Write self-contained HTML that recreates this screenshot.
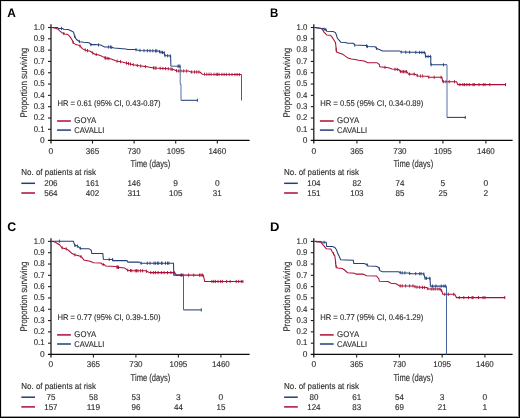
<!DOCTYPE html>
<html><head><meta charset="utf-8"><style>
html,body{margin:0;padding:0;background:#fff;}
body{width:520px;height:418px;overflow:hidden;}
svg{display:block;will-change:transform;}
.t{font-family:"Liberation Sans", sans-serif;fill:#2e2e2e;stroke:#2e2e2e;stroke-width:0.14px;}
text{font-family:"Liberation Sans", sans-serif;text-rendering:geometricPrecision;}
</style></head><body>
<svg width="520" height="418" viewBox="0 0 520 418">
<rect x="0" y="0" width="520" height="418" fill="#fff"/>
<text x="7.3" y="16.9" font-size="12.4" font-weight="bold" fill="#000" transform="translate(7.3,0) scale(0.96,1) translate(-7.3,0)">A</text>
<line x1="51" y1="24.3" x2="51" y2="143.6" stroke="#1e1e1e" stroke-width="1.3"/>
<line x1="47.9" y1="140.4" x2="249.6" y2="140.4" stroke="#0a0a0a" stroke-width="1.25"/>
<text x="44.6" y="142.9" text-anchor="end" class="t" font-size="8.4">0</text>
<line x1="48" y1="129.29" x2="51" y2="129.29" stroke="#1e1e1e" stroke-width="1.1"/>
<text x="44.6" y="131.59" text-anchor="end" class="t" font-size="8.4" textLength="10.8" lengthAdjust="spacingAndGlyphs">0.1</text>
<line x1="48" y1="117.98" x2="51" y2="117.98" stroke="#1e1e1e" stroke-width="1.1"/>
<text x="44.6" y="120.28" text-anchor="end" class="t" font-size="8.4" textLength="10.8" lengthAdjust="spacingAndGlyphs">0.2</text>
<line x1="48" y1="106.67" x2="51" y2="106.67" stroke="#1e1e1e" stroke-width="1.1"/>
<text x="44.6" y="108.97" text-anchor="end" class="t" font-size="8.4" textLength="10.8" lengthAdjust="spacingAndGlyphs">0.3</text>
<line x1="48" y1="95.36" x2="51" y2="95.36" stroke="#1e1e1e" stroke-width="1.1"/>
<text x="44.6" y="97.66" text-anchor="end" class="t" font-size="8.4" textLength="10.8" lengthAdjust="spacingAndGlyphs">0.4</text>
<line x1="48" y1="84.05" x2="51" y2="84.05" stroke="#1e1e1e" stroke-width="1.1"/>
<text x="44.6" y="86.35" text-anchor="end" class="t" font-size="8.4" textLength="10.8" lengthAdjust="spacingAndGlyphs">0.5</text>
<line x1="48" y1="72.74" x2="51" y2="72.74" stroke="#1e1e1e" stroke-width="1.1"/>
<text x="44.6" y="75.04" text-anchor="end" class="t" font-size="8.4" textLength="10.8" lengthAdjust="spacingAndGlyphs">0.6</text>
<line x1="48" y1="61.43" x2="51" y2="61.43" stroke="#1e1e1e" stroke-width="1.1"/>
<text x="44.6" y="63.73" text-anchor="end" class="t" font-size="8.4" textLength="10.8" lengthAdjust="spacingAndGlyphs">0.7</text>
<line x1="48" y1="50.12" x2="51" y2="50.12" stroke="#1e1e1e" stroke-width="1.1"/>
<text x="44.6" y="52.42" text-anchor="end" class="t" font-size="8.4" textLength="10.8" lengthAdjust="spacingAndGlyphs">0.8</text>
<line x1="48" y1="38.81" x2="51" y2="38.81" stroke="#1e1e1e" stroke-width="1.1"/>
<text x="44.6" y="41.11" text-anchor="end" class="t" font-size="8.4" textLength="10.8" lengthAdjust="spacingAndGlyphs">0.9</text>
<line x1="48" y1="27.5" x2="51" y2="27.5" stroke="#1e1e1e" stroke-width="1.1"/>
<text x="44.6" y="29.8" text-anchor="end" class="t" font-size="8.4" textLength="10.8" lengthAdjust="spacingAndGlyphs">1.0</text>
<text x="50.9" y="153.5" text-anchor="middle" class="t" font-size="8.4">0</text>
<line x1="92.5" y1="140.4" x2="92.5" y2="143.6" stroke="#1e1e1e" stroke-width="1.1"/>
<text x="92.5" y="153.5" text-anchor="middle" class="t" font-size="8.4" textLength="13.35" lengthAdjust="spacingAndGlyphs">365</text>
<line x1="134.1" y1="140.4" x2="134.1" y2="143.6" stroke="#1e1e1e" stroke-width="1.1"/>
<text x="134.1" y="153.5" text-anchor="middle" class="t" font-size="8.4" textLength="13.35" lengthAdjust="spacingAndGlyphs">730</text>
<line x1="175.7" y1="140.4" x2="175.7" y2="143.6" stroke="#1e1e1e" stroke-width="1.1"/>
<text x="175.7" y="153.5" text-anchor="middle" class="t" font-size="8.4" textLength="17.8" lengthAdjust="spacingAndGlyphs">1095</text>
<line x1="217.3" y1="140.4" x2="217.3" y2="143.6" stroke="#1e1e1e" stroke-width="1.1"/>
<text x="217.3" y="153.5" text-anchor="middle" class="t" font-size="8.4" textLength="17.8" lengthAdjust="spacingAndGlyphs">1460</text>
<text x="0" y="0" transform="translate(27.4,82.7) rotate(-90)" text-anchor="middle" class="t" textLength="69.8" lengthAdjust="spacingAndGlyphs" font-size="9.7">Proportion surviving</text>
<text x="130.6" y="167" class="t" textLength="39.8" lengthAdjust="spacingAndGlyphs" font-size="9.9">Time (days)</text>
<text x="57.4" y="105.7" class="t" textLength="103.2" lengthAdjust="spacingAndGlyphs" font-size="8.3">HR = 0.61 (95% CI, 0.43-0.87)</text>
<line x1="57.1" y1="121" x2="70.9" y2="121" stroke="#ab0e36" stroke-width="1.5"/>
<line x1="57.1" y1="130.1" x2="70.9" y2="130.1" stroke="#223f7a" stroke-width="1.5"/>
<text x="74.3" y="123" class="t" textLength="22" lengthAdjust="spacingAndGlyphs" font-size="8.4">GOYA</text>
<text x="74.3" y="132.6" class="t" textLength="30" lengthAdjust="spacingAndGlyphs" font-size="8.4">CAVALLI</text>
<text x="21.3" y="175.2" class="t" textLength="74.8" lengthAdjust="spacingAndGlyphs" font-size="8.6">No. of patients at risk</text>
<line x1="21.3" y1="183.3" x2="35" y2="183.3" stroke="#223f7a" stroke-width="1.5"/>
<line x1="21.3" y1="193" x2="35" y2="193" stroke="#ab0e36" stroke-width="1.5"/>
<text x="50.9" y="186.2" text-anchor="middle" class="t" font-size="8.4" textLength="13.35" lengthAdjust="spacingAndGlyphs">206</text>
<text x="92.5" y="186.2" text-anchor="middle" class="t" font-size="8.4" textLength="13.35" lengthAdjust="spacingAndGlyphs">161</text>
<text x="134.1" y="186.2" text-anchor="middle" class="t" font-size="8.4" textLength="13.35" lengthAdjust="spacingAndGlyphs">146</text>
<text x="175.7" y="186.2" text-anchor="middle" class="t" font-size="8.4">9</text>
<text x="217.3" y="186.2" text-anchor="middle" class="t" font-size="8.4">0</text>
<text x="50.9" y="195.8" text-anchor="middle" class="t" font-size="8.4" textLength="13.35" lengthAdjust="spacingAndGlyphs">564</text>
<text x="92.5" y="195.8" text-anchor="middle" class="t" font-size="8.4" textLength="13.35" lengthAdjust="spacingAndGlyphs">402</text>
<text x="134.1" y="195.8" text-anchor="middle" class="t" font-size="8.4" textLength="13.35" lengthAdjust="spacingAndGlyphs">311</text>
<text x="175.7" y="195.8" text-anchor="middle" class="t" font-size="8.4" textLength="13.35" lengthAdjust="spacingAndGlyphs">105</text>
<text x="217.3" y="195.8" text-anchor="middle" class="t" font-size="8.4" textLength="8.9" lengthAdjust="spacingAndGlyphs">31</text>
<polyline points="51.5,27.5 55.7,28.3 58.1,29.2 60,31.1 62.4,33.1 64.8,34 67.7,34.5 70.1,36.9 72,39.8 73.5,43.2 75.9,44.6 79.7,45.6 82.6,48.9 86.5,50.4 90.3,51.3 93.2,53.3 95,54.2 99.8,55.2 105.6,58.1 111.3,59 116.2,61 121.9,61.9 127.7,63.4 133.5,64.8 139.2,65.8 146.9,66.8 153.8,67.9 159.6,68.3 168.8,68.8 173.5,69.4 176.9,70.9 188.5,71.1 190.8,72 200,72 202.3,74.2 241.5,74.6" fill="none" stroke="#ab0e36" stroke-width="1.05" stroke-linejoin="miter"/>
<line x1="241.5" y1="74.6" x2="241.5" y2="100.5" stroke="#bb2e58" stroke-width="1"/>
<path d="M63.8,32.02v3.2 M73.1,40.69v3.2 M80,44.34v3.2 M85.2,48.3v3.2 M87.5,49.04v3.2 M92.7,51.36v3.2 M96.2,52.85v3.2 M105,56.2v3.2 M105.4,56.4v3.2 M107.1,56.74v3.2 M108.8,57.01v3.2 M117.1,59.54v3.2 M120.5,60.08v3.2 M126.5,61.49v3.2 M128.5,61.99v3.2 M130.5,62.48v3.2 M133.3,63.15v3.2 M137.3,63.87v3.2 M140.7,64.39v3.2 M145.4,65.01v3.2 M153.5,66.25v3.2 M155,66.38v3.2 M156,66.45v3.2 M160.2,66.73v3.2 M162.9,66.88v3.2 M165.6,67.03v3.2 M168.3,67.17v3.2 M171,67.48v3.2 M172.2,67.63v3.2 M176.5,69.12v3.2 M178.7,69.33v3.2 M180.8,69.37v3.2 M183.7,69.42v3.2 M186.6,69.47v3.2 M191.6,70.4v3.2 M194.5,70.4v3.2 M196.7,70.4v3.2 M198.9,70.4v3.2 M204.6,72.62v3.2 M206.8,72.65v3.2 M209,72.67v3.2 M211.1,72.69v3.2 M214,72.72v3.2 M216.2,72.74v3.2 M217.6,72.76v3.2 M219.1,72.77v3.2 M221.9,72.8v3.2 M224.1,72.82v3.2 M226.3,72.84v3.2 M229.2,72.87v3.2 M232,72.9v3.2 M234.9,72.93v3.2 M237.1,72.96v3.2 M239.3,72.98v3.2" stroke="#ab0e36" stroke-width="0.9" fill="none"/>
<polyline points="51.5,27.5 57.6,27.5 58.6,28.5 63,28.5 63.4,29.2 68.2,29.5 71,30.7 73.5,32.1 74.4,35.5 75.4,37.9 76.8,39.8 79.7,41.7 83.6,42.2 89.3,42.7 90.8,44.6 95,44.6 100.8,45.1 104.6,47 110.4,47 114.2,48 125.8,48.9 127.7,49.4 135.4,49.6 139.2,50.4 158.5,51 160.2,52.1 164.2,52.7 164.8,55.6 170.6,55.9 170.9,66 180.2,66.2" fill="none" stroke="#223f7a" stroke-width="1.05" stroke-linejoin="miter"/>
<polyline points="180.2,83.8 181,84.6" fill="none" stroke="#223f7a" stroke-width="1.05" stroke-linejoin="miter"/>
<polyline points="181,100.3 197.7,100.3" fill="none" stroke="#223f7a" stroke-width="1.05" stroke-linejoin="miter"/>
<line x1="180.2" y1="66.2" x2="180.2" y2="83.8" stroke="#5470a5" stroke-width="1"/>
<line x1="181" y1="84.6" x2="181" y2="100.3" stroke="#5470a5" stroke-width="1"/>
<path d="M61.5,26.9v3.2 M74.8,34.86v3.2 M79.4,39.9v3.2 M91,43v3.2 M98.5,43.3v3.2 M108.4,45.4v3.2 M110.4,45.4v3.2 M111.7,45.74v3.2 M136,48.13v3.2 M140,48.82v3.2 M144,48.95v3.2 M147.4,49.05v3.2 M150,49.14v3.2 M152.8,49.22v3.2 M155.5,49.31v3.2 M156.8,49.35v3.2 M159.5,50.05v3.2 M161,50.62v3.2 M162.5,50.85v3.2 M164.2,51.1v3.2 M165,54.01v3.2 M167.6,54.14v3.2 M170.3,54.28v3.2 M178,64.55v3.2 M179,64.57v3.2 M180,64.6v3.2 M197.4,98.7v3.2" stroke="#223f7a" stroke-width="0.9" fill="none"/>
<text x="270.1" y="16.9" font-size="12.4" font-weight="bold" fill="#000" transform="translate(270.1,0) scale(0.93,1) translate(-270.1,0)">B</text>
<line x1="313.8" y1="24.3" x2="313.8" y2="143.6" stroke="#1e1e1e" stroke-width="1.3"/>
<line x1="310.7" y1="140.4" x2="512.6" y2="140.4" stroke="#0a0a0a" stroke-width="1.25"/>
<text x="307.4" y="142.9" text-anchor="end" class="t" font-size="8.4">0</text>
<line x1="310.8" y1="129.29" x2="313.8" y2="129.29" stroke="#1e1e1e" stroke-width="1.1"/>
<text x="307.4" y="131.59" text-anchor="end" class="t" font-size="8.4" textLength="10.8" lengthAdjust="spacingAndGlyphs">0.1</text>
<line x1="310.8" y1="117.98" x2="313.8" y2="117.98" stroke="#1e1e1e" stroke-width="1.1"/>
<text x="307.4" y="120.28" text-anchor="end" class="t" font-size="8.4" textLength="10.8" lengthAdjust="spacingAndGlyphs">0.2</text>
<line x1="310.8" y1="106.67" x2="313.8" y2="106.67" stroke="#1e1e1e" stroke-width="1.1"/>
<text x="307.4" y="108.97" text-anchor="end" class="t" font-size="8.4" textLength="10.8" lengthAdjust="spacingAndGlyphs">0.3</text>
<line x1="310.8" y1="95.36" x2="313.8" y2="95.36" stroke="#1e1e1e" stroke-width="1.1"/>
<text x="307.4" y="97.66" text-anchor="end" class="t" font-size="8.4" textLength="10.8" lengthAdjust="spacingAndGlyphs">0.4</text>
<line x1="310.8" y1="84.05" x2="313.8" y2="84.05" stroke="#1e1e1e" stroke-width="1.1"/>
<text x="307.4" y="86.35" text-anchor="end" class="t" font-size="8.4" textLength="10.8" lengthAdjust="spacingAndGlyphs">0.5</text>
<line x1="310.8" y1="72.74" x2="313.8" y2="72.74" stroke="#1e1e1e" stroke-width="1.1"/>
<text x="307.4" y="75.04" text-anchor="end" class="t" font-size="8.4" textLength="10.8" lengthAdjust="spacingAndGlyphs">0.6</text>
<line x1="310.8" y1="61.43" x2="313.8" y2="61.43" stroke="#1e1e1e" stroke-width="1.1"/>
<text x="307.4" y="63.73" text-anchor="end" class="t" font-size="8.4" textLength="10.8" lengthAdjust="spacingAndGlyphs">0.7</text>
<line x1="310.8" y1="50.12" x2="313.8" y2="50.12" stroke="#1e1e1e" stroke-width="1.1"/>
<text x="307.4" y="52.42" text-anchor="end" class="t" font-size="8.4" textLength="10.8" lengthAdjust="spacingAndGlyphs">0.8</text>
<line x1="310.8" y1="38.81" x2="313.8" y2="38.81" stroke="#1e1e1e" stroke-width="1.1"/>
<text x="307.4" y="41.11" text-anchor="end" class="t" font-size="8.4" textLength="10.8" lengthAdjust="spacingAndGlyphs">0.9</text>
<line x1="310.8" y1="27.5" x2="313.8" y2="27.5" stroke="#1e1e1e" stroke-width="1.1"/>
<text x="307.4" y="29.8" text-anchor="end" class="t" font-size="8.4" textLength="10.8" lengthAdjust="spacingAndGlyphs">1.0</text>
<text x="313.9" y="153.5" text-anchor="middle" class="t" font-size="8.4">0</text>
<line x1="356.9" y1="140.4" x2="356.9" y2="143.6" stroke="#1e1e1e" stroke-width="1.1"/>
<text x="356.9" y="153.5" text-anchor="middle" class="t" font-size="8.4" textLength="13.35" lengthAdjust="spacingAndGlyphs">365</text>
<line x1="399.9" y1="140.4" x2="399.9" y2="143.6" stroke="#1e1e1e" stroke-width="1.1"/>
<text x="399.9" y="153.5" text-anchor="middle" class="t" font-size="8.4" textLength="13.35" lengthAdjust="spacingAndGlyphs">730</text>
<line x1="442.9" y1="140.4" x2="442.9" y2="143.6" stroke="#1e1e1e" stroke-width="1.1"/>
<text x="442.9" y="153.5" text-anchor="middle" class="t" font-size="8.4" textLength="17.8" lengthAdjust="spacingAndGlyphs">1095</text>
<line x1="485.9" y1="140.4" x2="485.9" y2="143.6" stroke="#1e1e1e" stroke-width="1.1"/>
<text x="485.9" y="153.5" text-anchor="middle" class="t" font-size="8.4" textLength="17.8" lengthAdjust="spacingAndGlyphs">1460</text>
<text x="0" y="0" transform="translate(290.2,82.7) rotate(-90)" text-anchor="middle" class="t" textLength="69.8" lengthAdjust="spacingAndGlyphs" font-size="9.7">Proportion surviving</text>
<text x="393.4" y="167" class="t" textLength="39.8" lengthAdjust="spacingAndGlyphs" font-size="9.9">Time (days)</text>
<text x="320.2" y="105.7" class="t" textLength="103.2" lengthAdjust="spacingAndGlyphs" font-size="8.3">HR = 0.55 (95% CI, 0.34-0.89)</text>
<line x1="319.9" y1="121" x2="333.7" y2="121" stroke="#ab0e36" stroke-width="1.5"/>
<line x1="319.9" y1="130.1" x2="333.7" y2="130.1" stroke="#223f7a" stroke-width="1.5"/>
<text x="337.1" y="123" class="t" textLength="22" lengthAdjust="spacingAndGlyphs" font-size="8.4">GOYA</text>
<text x="337.1" y="132.6" class="t" textLength="30" lengthAdjust="spacingAndGlyphs" font-size="8.4">CAVALLI</text>
<text x="284.1" y="175.2" class="t" textLength="74.8" lengthAdjust="spacingAndGlyphs" font-size="8.6">No. of patients at risk</text>
<line x1="284.1" y1="183.3" x2="297.8" y2="183.3" stroke="#223f7a" stroke-width="1.5"/>
<line x1="284.1" y1="193" x2="297.8" y2="193" stroke="#ab0e36" stroke-width="1.5"/>
<text x="313.9" y="186.2" text-anchor="middle" class="t" font-size="8.4" textLength="13.35" lengthAdjust="spacingAndGlyphs">104</text>
<text x="356.9" y="186.2" text-anchor="middle" class="t" font-size="8.4" textLength="8.9" lengthAdjust="spacingAndGlyphs">82</text>
<text x="399.9" y="186.2" text-anchor="middle" class="t" font-size="8.4" textLength="8.9" lengthAdjust="spacingAndGlyphs">74</text>
<text x="442.9" y="186.2" text-anchor="middle" class="t" font-size="8.4">5</text>
<text x="485.9" y="186.2" text-anchor="middle" class="t" font-size="8.4">0</text>
<text x="313.9" y="195.8" text-anchor="middle" class="t" font-size="8.4" textLength="13.35" lengthAdjust="spacingAndGlyphs">151</text>
<text x="356.9" y="195.8" text-anchor="middle" class="t" font-size="8.4" textLength="13.35" lengthAdjust="spacingAndGlyphs">103</text>
<text x="399.9" y="195.8" text-anchor="middle" class="t" font-size="8.4" textLength="8.9" lengthAdjust="spacingAndGlyphs">85</text>
<text x="442.9" y="195.8" text-anchor="middle" class="t" font-size="8.4" textLength="8.9" lengthAdjust="spacingAndGlyphs">25</text>
<text x="485.9" y="195.8" text-anchor="middle" class="t" font-size="8.4">2</text>
<polyline points="314.3,27.5 321,28.25 322.5,29.7 324,32.1 326.8,35 330.2,35.2 331.6,36.4 333.1,38.8 335.5,42.7 336,47 336.4,51.8 338.4,52.8 342.7,54.2 344.6,55.7 348,58.1 351.3,59 355.2,59.5 358.5,60.2 364.2,61 367.7,62.7 376.9,62.7 379.2,64.4 379.8,66.7 388.5,67.7 391.9,69 398.8,69.6 400.6,71.7 406.9,71.7 408.7,74.2 414.6,74.1 418.1,75.9 427.3,76.2 429,77.3 441.9,77.3 442.7,81.7 456.5,81.7 458,84.6 505.8,84.6" fill="none" stroke="#ab0e36" stroke-width="1.05" stroke-linejoin="miter"/>
<path d="M336.2,47.8v3.2 M385,65.7v3.2 M395,67.67v3.2 M397.3,67.87v3.2 M400.4,69.87v3.2 M402,70.1v3.2 M403.5,70.1v3.2 M405,70.1v3.2 M406.5,70.1v3.2 M409.6,72.58v3.2 M414.2,72.51v3.2 M417.3,73.89v3.2 M420.4,74.38v3.2 M422.7,74.45v3.2 M428.8,75.57v3.2 M434.2,75.7v3.2 M441.1,75.7v3.2 M443.4,80.1v3.2 M446,80.1v3.2 M449.2,80.1v3.2 M454.5,80.1v3.2 M459.9,83v3.2 M462.9,83v3.2 M464.6,83v3.2 M466.9,83v3.2 M469.3,83v3.2 M473,83v3.2 M474.3,83v3.2 M479,83v3.2 M483.3,83v3.2 M485.1,83v3.2 M489.8,83v3.2 M505.5,83v3.2" stroke="#ab0e36" stroke-width="0.9" fill="none"/>
<polyline points="314.3,27.5 319.6,28.2 323.5,28.5 324.4,29.5 326,29.5 326.8,31.3 333.1,31.6 335.5,32.6 336.4,35 337.4,38.3 338.8,39.8 340.8,42.2 345.6,42.4 347.5,43.2 353.3,43.3 354.7,45.1 366,45.4 367.1,46.5 375.2,46.8 376.3,48.3 379.2,49.4 382.7,50.9 399.4,50.9 401.2,52.1 425,52.5 425.6,56.5 430.8,56.5 430.8,64.8 447,64.8" fill="none" stroke="#223f7a" stroke-width="1.05" stroke-linejoin="miter"/>
<polyline points="447,117.4 465.5,117.4" fill="none" stroke="#223f7a" stroke-width="1.05" stroke-linejoin="miter"/>
<line x1="447" y1="64.8" x2="447" y2="117.4" stroke="#5470a5" stroke-width="1"/>
<path d="M324.1,27.57v3.2 M325.8,27.9v3.2 M354.7,43.5v3.2 M366.5,44.3v3.2 M367.4,44.91v3.2 M376.5,46.78v3.2 M401.2,50.5v3.2 M405.8,50.58v3.2 M409.6,50.64v3.2 M415.8,50.75v3.2 M419.6,50.81v3.2 M421.9,50.85v3.2 M424.2,50.89v3.2 M425.8,54.9v3.2 M428.1,54.9v3.2 M430.4,54.9v3.2 M431.2,63.2v3.2 M443.5,63.2v3.2 M465.3,115.8v3.2" stroke="#223f7a" stroke-width="0.9" fill="none"/>
<text x="7.3" y="230.8" font-size="12.4" font-weight="bold" fill="#000" transform="translate(7.3,0) scale(1.0,1) translate(-7.3,0)">C</text>
<line x1="51" y1="238.2" x2="51" y2="357.5" stroke="#1e1e1e" stroke-width="1.3"/>
<line x1="47.9" y1="354.3" x2="249.6" y2="354.3" stroke="#0a0a0a" stroke-width="1.25"/>
<text x="44.6" y="356.8" text-anchor="end" class="t" font-size="8.4">0</text>
<line x1="48" y1="343.19" x2="51" y2="343.19" stroke="#1e1e1e" stroke-width="1.1"/>
<text x="44.6" y="345.49" text-anchor="end" class="t" font-size="8.4" textLength="10.8" lengthAdjust="spacingAndGlyphs">0.1</text>
<line x1="48" y1="331.88" x2="51" y2="331.88" stroke="#1e1e1e" stroke-width="1.1"/>
<text x="44.6" y="334.18" text-anchor="end" class="t" font-size="8.4" textLength="10.8" lengthAdjust="spacingAndGlyphs">0.2</text>
<line x1="48" y1="320.57" x2="51" y2="320.57" stroke="#1e1e1e" stroke-width="1.1"/>
<text x="44.6" y="322.87" text-anchor="end" class="t" font-size="8.4" textLength="10.8" lengthAdjust="spacingAndGlyphs">0.3</text>
<line x1="48" y1="309.26" x2="51" y2="309.26" stroke="#1e1e1e" stroke-width="1.1"/>
<text x="44.6" y="311.56" text-anchor="end" class="t" font-size="8.4" textLength="10.8" lengthAdjust="spacingAndGlyphs">0.4</text>
<line x1="48" y1="297.95" x2="51" y2="297.95" stroke="#1e1e1e" stroke-width="1.1"/>
<text x="44.6" y="300.25" text-anchor="end" class="t" font-size="8.4" textLength="10.8" lengthAdjust="spacingAndGlyphs">0.5</text>
<line x1="48" y1="286.64" x2="51" y2="286.64" stroke="#1e1e1e" stroke-width="1.1"/>
<text x="44.6" y="288.94" text-anchor="end" class="t" font-size="8.4" textLength="10.8" lengthAdjust="spacingAndGlyphs">0.6</text>
<line x1="48" y1="275.33" x2="51" y2="275.33" stroke="#1e1e1e" stroke-width="1.1"/>
<text x="44.6" y="277.63" text-anchor="end" class="t" font-size="8.4" textLength="10.8" lengthAdjust="spacingAndGlyphs">0.7</text>
<line x1="48" y1="264.02" x2="51" y2="264.02" stroke="#1e1e1e" stroke-width="1.1"/>
<text x="44.6" y="266.32" text-anchor="end" class="t" font-size="8.4" textLength="10.8" lengthAdjust="spacingAndGlyphs">0.8</text>
<line x1="48" y1="252.71" x2="51" y2="252.71" stroke="#1e1e1e" stroke-width="1.1"/>
<text x="44.6" y="255.01" text-anchor="end" class="t" font-size="8.4" textLength="10.8" lengthAdjust="spacingAndGlyphs">0.9</text>
<line x1="48" y1="241.4" x2="51" y2="241.4" stroke="#1e1e1e" stroke-width="1.1"/>
<text x="44.6" y="243.7" text-anchor="end" class="t" font-size="8.4" textLength="10.8" lengthAdjust="spacingAndGlyphs">1.0</text>
<text x="50.9" y="367.4" text-anchor="middle" class="t" font-size="8.4">0</text>
<line x1="93.4" y1="354.3" x2="93.4" y2="357.5" stroke="#1e1e1e" stroke-width="1.1"/>
<text x="93.4" y="367.4" text-anchor="middle" class="t" font-size="8.4" textLength="13.35" lengthAdjust="spacingAndGlyphs">365</text>
<line x1="135.9" y1="354.3" x2="135.9" y2="357.5" stroke="#1e1e1e" stroke-width="1.1"/>
<text x="135.9" y="367.4" text-anchor="middle" class="t" font-size="8.4" textLength="13.35" lengthAdjust="spacingAndGlyphs">730</text>
<line x1="178.4" y1="354.3" x2="178.4" y2="357.5" stroke="#1e1e1e" stroke-width="1.1"/>
<text x="178.4" y="367.4" text-anchor="middle" class="t" font-size="8.4" textLength="17.8" lengthAdjust="spacingAndGlyphs">1095</text>
<line x1="220.9" y1="354.3" x2="220.9" y2="357.5" stroke="#1e1e1e" stroke-width="1.1"/>
<text x="220.9" y="367.4" text-anchor="middle" class="t" font-size="8.4" textLength="17.8" lengthAdjust="spacingAndGlyphs">1460</text>
<text x="0" y="0" transform="translate(27.4,296.6) rotate(-90)" text-anchor="middle" class="t" textLength="69.8" lengthAdjust="spacingAndGlyphs" font-size="9.7">Proportion surviving</text>
<text x="130.6" y="380.9" class="t" textLength="39.8" lengthAdjust="spacingAndGlyphs" font-size="9.9">Time (days)</text>
<text x="57.4" y="319.6" class="t" textLength="103.2" lengthAdjust="spacingAndGlyphs" font-size="8.3">HR = 0.77 (95% CI, 0.39-1.50)</text>
<line x1="57.1" y1="334.9" x2="70.9" y2="334.9" stroke="#ab0e36" stroke-width="1.5"/>
<line x1="57.1" y1="344" x2="70.9" y2="344" stroke="#223f7a" stroke-width="1.5"/>
<text x="74.3" y="336.9" class="t" textLength="22" lengthAdjust="spacingAndGlyphs" font-size="8.4">GOYA</text>
<text x="74.3" y="346.5" class="t" textLength="30" lengthAdjust="spacingAndGlyphs" font-size="8.4">CAVALLI</text>
<text x="21.3" y="389.1" class="t" textLength="74.8" lengthAdjust="spacingAndGlyphs" font-size="8.6">No. of patients at risk</text>
<line x1="21.3" y1="397.2" x2="35" y2="397.2" stroke="#223f7a" stroke-width="1.5"/>
<line x1="21.3" y1="406.9" x2="35" y2="406.9" stroke="#ab0e36" stroke-width="1.5"/>
<text x="50.9" y="400.1" text-anchor="middle" class="t" font-size="8.4" textLength="8.9" lengthAdjust="spacingAndGlyphs">75</text>
<text x="93.4" y="400.1" text-anchor="middle" class="t" font-size="8.4" textLength="8.9" lengthAdjust="spacingAndGlyphs">58</text>
<text x="135.9" y="400.1" text-anchor="middle" class="t" font-size="8.4" textLength="8.9" lengthAdjust="spacingAndGlyphs">53</text>
<text x="178.4" y="400.1" text-anchor="middle" class="t" font-size="8.4">3</text>
<text x="220.9" y="400.1" text-anchor="middle" class="t" font-size="8.4">0</text>
<text x="50.9" y="409.7" text-anchor="middle" class="t" font-size="8.4" textLength="13.35" lengthAdjust="spacingAndGlyphs">157</text>
<text x="93.4" y="409.7" text-anchor="middle" class="t" font-size="8.4" textLength="13.35" lengthAdjust="spacingAndGlyphs">119</text>
<text x="135.9" y="409.7" text-anchor="middle" class="t" font-size="8.4" textLength="8.9" lengthAdjust="spacingAndGlyphs">96</text>
<text x="178.4" y="409.7" text-anchor="middle" class="t" font-size="8.4" textLength="8.9" lengthAdjust="spacingAndGlyphs">44</text>
<text x="220.9" y="409.7" text-anchor="middle" class="t" font-size="8.4" textLength="8.9" lengthAdjust="spacingAndGlyphs">15</text>
<polyline points="51.5,241.2 54.9,242 59.5,244.7 61.3,247 62.4,248.1 66.5,248.9 69.3,251 71.7,253.3 74.5,254.7 80.3,256.2 82,257.3 83.8,260 90.1,261.2 93.6,262.8 101.1,263.1 102.2,264.3 104.5,264.8 105.7,266 115.4,266.5 117.7,267.3 124.6,267.9 127.5,270.2 132.7,270.8 145.4,270.8 148.8,272.2 151.2,272.6 174.7,272.6 176.4,275.1 203.3,275.1 204.7,281.5 243.1,281.5" fill="none" stroke="#ab0e36" stroke-width="1.05" stroke-linejoin="miter"/>
<path d="M62.1,246.2v3.2 M66.2,247.24v3.2 M74.9,253.2v3.2 M81,255.05v3.2 M103.2,262.92v3.2 M117,265.46v3.2 M117.3,265.56v3.2 M118.4,265.76v3.2 M118.6,265.78v3.2 M127.8,268.63v3.2 M130.5,268.95v3.2 M131.8,269.1v3.2 M135.2,269.2v3.2 M136.5,269.2v3.2 M137.9,269.2v3.2 M140.6,269.2v3.2 M142.6,269.2v3.2 M146.6,269.69v3.2 M150.7,270.92v3.2 M153.4,271v3.2 M155.4,271v3.2 M158.1,271v3.2 M161.4,271v3.2 M164.1,271v3.2 M167.5,271v3.2 M170.9,271v3.2 M174.2,271v3.2 M181,273.5v3.2 M181.6,273.5v3.2 M183,273.5v3.2 M188.6,273.5v3.2 M193.7,273.5v3.2 M199.5,273.5v3.2 M201,273.5v3.2 M202.4,273.5v3.2 M211.9,279.9v3.2 M213.7,279.9v3.2 M215.4,279.9v3.2 M218,279.9v3.2 M220.6,279.9v3.2 M222.3,279.9v3.2 M226.6,279.9v3.2 M230.1,279.9v3.2 M236.2,279.9v3.2 M238.7,279.9v3.2 M241.3,279.9v3.2 M242.9,279.9v3.2" stroke="#ab0e36" stroke-width="0.9" fill="none"/>
<polyline points="51.5,241.2 73.4,241.2 74.3,244.1 75.1,245.8 76.3,245.5 78,246.4 79.7,248.1 81.5,248.7 89,248.7 91.3,250.4 91.8,253.5 102.8,253.5 103.4,259.3 112.5,259.4 113.1,260.6 126.9,260.6 127.8,262.1 139,262.1 140.8,263.2 173.5,263.2 173.8,275.1 183.5,275.1" fill="none" stroke="#223f7a" stroke-width="1.05" stroke-linejoin="miter"/>
<polyline points="183.5,309.9 201.5,309.9" fill="none" stroke="#223f7a" stroke-width="1.05" stroke-linejoin="miter"/>
<line x1="183.5" y1="275.1" x2="183.5" y2="309.9" stroke="#43629c" stroke-width="1"/>
<path d="M59.4,239.6v3.2 M74.9,243.78v3.2 M77.6,244.59v3.2 M80.3,246.7v3.2 M109.2,257.76v3.2 M112.6,258v3.2 M141.2,261.6v3.2 M147.3,261.6v3.2 M150,261.6v3.2 M154,261.6v3.2 M155.4,261.6v3.2 M157.4,261.6v3.2 M158.7,261.6v3.2 M161.4,261.6v3.2 M162.1,261.6v3.2 M165.5,261.6v3.2 M167.5,261.6v3.2 M168.8,261.6v3.2 M201.3,308.3v3.2" stroke="#223f7a" stroke-width="0.9" fill="none"/>
<text x="270.1" y="230.8" font-size="12.4" font-weight="bold" fill="#000" transform="translate(270.1,0) scale(1.05,1) translate(-270.1,0)">D</text>
<line x1="313.8" y1="238.2" x2="313.8" y2="357.5" stroke="#1e1e1e" stroke-width="1.3"/>
<line x1="310.7" y1="354.3" x2="512.6" y2="354.3" stroke="#0a0a0a" stroke-width="1.25"/>
<text x="307.4" y="356.8" text-anchor="end" class="t" font-size="8.4">0</text>
<line x1="310.8" y1="343.19" x2="313.8" y2="343.19" stroke="#1e1e1e" stroke-width="1.1"/>
<text x="307.4" y="345.49" text-anchor="end" class="t" font-size="8.4" textLength="10.8" lengthAdjust="spacingAndGlyphs">0.1</text>
<line x1="310.8" y1="331.88" x2="313.8" y2="331.88" stroke="#1e1e1e" stroke-width="1.1"/>
<text x="307.4" y="334.18" text-anchor="end" class="t" font-size="8.4" textLength="10.8" lengthAdjust="spacingAndGlyphs">0.2</text>
<line x1="310.8" y1="320.57" x2="313.8" y2="320.57" stroke="#1e1e1e" stroke-width="1.1"/>
<text x="307.4" y="322.87" text-anchor="end" class="t" font-size="8.4" textLength="10.8" lengthAdjust="spacingAndGlyphs">0.3</text>
<line x1="310.8" y1="309.26" x2="313.8" y2="309.26" stroke="#1e1e1e" stroke-width="1.1"/>
<text x="307.4" y="311.56" text-anchor="end" class="t" font-size="8.4" textLength="10.8" lengthAdjust="spacingAndGlyphs">0.4</text>
<line x1="310.8" y1="297.95" x2="313.8" y2="297.95" stroke="#1e1e1e" stroke-width="1.1"/>
<text x="307.4" y="300.25" text-anchor="end" class="t" font-size="8.4" textLength="10.8" lengthAdjust="spacingAndGlyphs">0.5</text>
<line x1="310.8" y1="286.64" x2="313.8" y2="286.64" stroke="#1e1e1e" stroke-width="1.1"/>
<text x="307.4" y="288.94" text-anchor="end" class="t" font-size="8.4" textLength="10.8" lengthAdjust="spacingAndGlyphs">0.6</text>
<line x1="310.8" y1="275.33" x2="313.8" y2="275.33" stroke="#1e1e1e" stroke-width="1.1"/>
<text x="307.4" y="277.63" text-anchor="end" class="t" font-size="8.4" textLength="10.8" lengthAdjust="spacingAndGlyphs">0.7</text>
<line x1="310.8" y1="264.02" x2="313.8" y2="264.02" stroke="#1e1e1e" stroke-width="1.1"/>
<text x="307.4" y="266.32" text-anchor="end" class="t" font-size="8.4" textLength="10.8" lengthAdjust="spacingAndGlyphs">0.8</text>
<line x1="310.8" y1="252.71" x2="313.8" y2="252.71" stroke="#1e1e1e" stroke-width="1.1"/>
<text x="307.4" y="255.01" text-anchor="end" class="t" font-size="8.4" textLength="10.8" lengthAdjust="spacingAndGlyphs">0.9</text>
<line x1="310.8" y1="241.4" x2="313.8" y2="241.4" stroke="#1e1e1e" stroke-width="1.1"/>
<text x="307.4" y="243.7" text-anchor="end" class="t" font-size="8.4" textLength="10.8" lengthAdjust="spacingAndGlyphs">1.0</text>
<text x="313.9" y="367.4" text-anchor="middle" class="t" font-size="8.4">0</text>
<line x1="356.65" y1="354.3" x2="356.65" y2="357.5" stroke="#1e1e1e" stroke-width="1.1"/>
<text x="356.65" y="367.4" text-anchor="middle" class="t" font-size="8.4" textLength="13.35" lengthAdjust="spacingAndGlyphs">365</text>
<line x1="399.4" y1="354.3" x2="399.4" y2="357.5" stroke="#1e1e1e" stroke-width="1.1"/>
<text x="399.4" y="367.4" text-anchor="middle" class="t" font-size="8.4" textLength="13.35" lengthAdjust="spacingAndGlyphs">730</text>
<line x1="442.15" y1="354.3" x2="442.15" y2="357.5" stroke="#1e1e1e" stroke-width="1.1"/>
<text x="442.15" y="367.4" text-anchor="middle" class="t" font-size="8.4" textLength="17.8" lengthAdjust="spacingAndGlyphs">1095</text>
<line x1="484.9" y1="354.3" x2="484.9" y2="357.5" stroke="#1e1e1e" stroke-width="1.1"/>
<text x="484.9" y="367.4" text-anchor="middle" class="t" font-size="8.4" textLength="17.8" lengthAdjust="spacingAndGlyphs">1460</text>
<text x="0" y="0" transform="translate(290.2,296.6) rotate(-90)" text-anchor="middle" class="t" textLength="69.8" lengthAdjust="spacingAndGlyphs" font-size="9.7">Proportion surviving</text>
<text x="393.4" y="380.9" class="t" textLength="39.8" lengthAdjust="spacingAndGlyphs" font-size="9.9">Time (days)</text>
<text x="320.2" y="319.6" class="t" textLength="103.2" lengthAdjust="spacingAndGlyphs" font-size="8.3">HR = 0.77 (95% CI, 0.46-1.29)</text>
<line x1="319.9" y1="334.9" x2="333.7" y2="334.9" stroke="#ab0e36" stroke-width="1.5"/>
<line x1="319.9" y1="344" x2="333.7" y2="344" stroke="#223f7a" stroke-width="1.5"/>
<text x="337.1" y="336.9" class="t" textLength="22" lengthAdjust="spacingAndGlyphs" font-size="8.4">GOYA</text>
<text x="337.1" y="346.5" class="t" textLength="30" lengthAdjust="spacingAndGlyphs" font-size="8.4">CAVALLI</text>
<text x="284.1" y="389.1" class="t" textLength="74.8" lengthAdjust="spacingAndGlyphs" font-size="8.6">No. of patients at risk</text>
<line x1="284.1" y1="397.2" x2="297.8" y2="397.2" stroke="#223f7a" stroke-width="1.5"/>
<line x1="284.1" y1="406.9" x2="297.8" y2="406.9" stroke="#ab0e36" stroke-width="1.5"/>
<text x="313.9" y="400.1" text-anchor="middle" class="t" font-size="8.4" textLength="8.9" lengthAdjust="spacingAndGlyphs">80</text>
<text x="356.65" y="400.1" text-anchor="middle" class="t" font-size="8.4" textLength="8.9" lengthAdjust="spacingAndGlyphs">61</text>
<text x="399.4" y="400.1" text-anchor="middle" class="t" font-size="8.4" textLength="8.9" lengthAdjust="spacingAndGlyphs">54</text>
<text x="442.15" y="400.1" text-anchor="middle" class="t" font-size="8.4">3</text>
<text x="484.9" y="400.1" text-anchor="middle" class="t" font-size="8.4">0</text>
<text x="313.9" y="409.7" text-anchor="middle" class="t" font-size="8.4" textLength="13.35" lengthAdjust="spacingAndGlyphs">124</text>
<text x="356.65" y="409.7" text-anchor="middle" class="t" font-size="8.4" textLength="8.9" lengthAdjust="spacingAndGlyphs">83</text>
<text x="399.4" y="409.7" text-anchor="middle" class="t" font-size="8.4" textLength="8.9" lengthAdjust="spacingAndGlyphs">69</text>
<text x="442.15" y="409.7" text-anchor="middle" class="t" font-size="8.4" textLength="8.9" lengthAdjust="spacingAndGlyphs">21</text>
<text x="484.9" y="409.7" text-anchor="middle" class="t" font-size="8.4">1</text>
<polyline points="314.3,241.2 316.9,242 321,242.3 323.3,245.2 326.2,248.7 330.8,248.9 332.5,252.2 334.8,255.6 335.4,260.2 336,266.6 337.7,268.1 342.3,268.5 344.6,270 347.5,272.7 354.4,273.2 356.2,274.1 363.1,274.1 366.5,275.8 376.5,276 378.8,278.7 379.4,281.3 388.1,281.5 391,283.3 396.2,283.8 399.6,285.9 413.5,285.9 415.8,287.1 426.4,287.6 428.2,289 440.1,289 441.9,291.1 442.8,294.3 454.7,294.3 456.5,297.6 505,297.6" fill="none" stroke="#ab0e36" stroke-width="1.05" stroke-linejoin="miter"/>
<path d="M333.5,252.08v3.2 M335.6,260.73v3.2 M336.2,265.18v3.2 M400.2,284.3v3.2 M402.2,284.3v3.2 M405.6,284.3v3.2 M409.6,284.3v3.2 M413,284.3v3.2 M415,285.08v3.2 M417,285.56v3.2 M419.7,285.68v3.2 M422.4,285.81v3.2 M424.4,285.91v3.2 M427.8,287.09v3.2 M431.2,287.4v3.2 M433.2,287.4v3.2 M435.2,287.4v3.2 M437.9,287.4v3.2 M439.9,287.4v3.2 M441.3,288.8v3.2 M444.7,292.7v3.2 M448.3,292.7v3.2 M453.8,292.7v3.2 M459.3,296v3.2 M463.8,296v3.2 M468.4,296v3.2 M472.1,296v3.2 M473,296v3.2 M478.5,296v3.2 M483,296v3.2 M484.9,296v3.2 M504.8,296v3.2" stroke="#ab0e36" stroke-width="0.9" fill="none"/>
<polyline points="314.3,241.2 320.4,241.5 322.7,242.3 326.2,242.3 326.7,246.4 332.5,246.6 334.8,247.5 336.5,249.8 337.7,253.3 339.4,256.8 340.6,259.7 345.8,260 353.3,260.3 353.8,263.5 364.2,263.5 367.1,264.8 368.3,266 376,266.3 378.8,267.5 380,270.6 382.3,271.7 398.5,271.7 400.8,272.9 407.7,272.9 411.2,273.7 423.7,273.7 425.1,278.3 430,278.3 430.4,286.1 446.5,286.1" fill="none" stroke="#223f7a" stroke-width="1.05" stroke-linejoin="miter"/>
<line x1="446.5" y1="286.1" x2="446.5" y2="354.5" stroke="#43629c" stroke-width="1"/>
<path d="M324.1,240.7v3.2 M367.2,263.3v3.2 M379.3,267.19v3.2 M400.2,270.99v3.2 M402.2,271.3v3.2 M404.9,271.3v3.2 M409.6,271.73v3.2 M415.7,272.1v3.2 M419.7,272.1v3.2 M421.1,272.1v3.2 M423.8,272.43v3.2 M425.1,276.7v3.2 M426.5,276.7v3.2 M429.8,276.7v3.2 M432.5,284.5v3.2 M435.9,284.5v3.2 M441.3,284.5v3.2 M443.9,284.5v3.2 M445.3,284.5v3.2" stroke="#223f7a" stroke-width="0.9" fill="none"/>
<g shape-rendering="crispEdges">
<rect x="0" y="0" width="520" height="1" fill="#000"/>
<rect x="0" y="1" width="520" height="1" fill="#e4e4e4"/>
<rect x="0" y="0" width="1" height="418" fill="#000"/>
<rect x="1" y="1" width="1" height="416" fill="#e4e4e4"/>
<rect x="519" y="0" width="1" height="418" fill="#000"/>
<rect x="518" y="1" width="1" height="416" fill="#7a7a7a"/>
<rect x="0" y="417" width="520" height="1" fill="#000"/>
<rect x="1" y="416" width="518" height="1" fill="#9a9a9a"/>
</g>
</svg>
</body></html>
